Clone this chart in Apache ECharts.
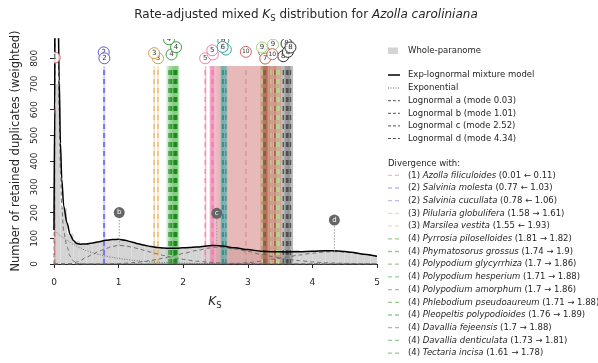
<!DOCTYPE html>
<html>
<head>
<meta charset="utf-8">
<script src="https://cdn.jsdelivr.net/npm/echarts@6/dist/echarts.min.js"></script>
<style>
  html, body { margin: 0; padding: 0; background: #fff; }
  #chart { width: 598px; height: 363px; }
</style>
</head>
<body>
<div id="chart"></div>
<script>
const FONT = 'DejaVu Sans';
const TEXT_COLOR = '#262626';

// Fitted exp-lognormal mixture, sampled on a shared Ks grid
const ksGrid = [0, 0.01, 0.02, 0.03, 0.04, 0.06, 0.08, 0.1, 0.12, 0.15, 0.2, 0.25, 0.3, 0.35, 0.4, 0.5, 0.6, 0.7, 0.8, 0.9,
  1.0, 1.1, 1.2, 1.3, 1.4, 1.5, 1.6, 1.7, 1.8, 1.9, 2.0, 2.2, 2.4, 2.5, 2.6, 2.8, 3.0, 3.2, 3.4, 3.6, 3.8, 4.0, 4.2, 4.3, 4.4, 4.6, 4.8, 5.0];
const mixtureTotal = [132, 599, 1397, 1694, 1602, 1117, 713, 470, 331, 226, 160, 115, 91, 80, 77, 78, 82, 87, 92, 95,
  96, 92, 86, 79, 73, 68, 64, 62, 61, 61, 63, 66, 71, 72, 70, 63, 56, 50, 48, 47, 48, 50, 52, 52, 51, 46, 38, 30];
const exponential = [132, 129, 127, 124, 122, 117, 113, 110, 106, 101, 92, 84, 76, 69, 63, 52, 44, 37, 31, 26,
  22, 18, 15, 12, 10, 8, 7, 6, 5, 4, 3.5, 2.5, 2, 1.5, 1.2, 0.8, 0.5, 0.4, 0.3, 0.2, 0.1, 0.1, 0.1, 0, 0, 0, 0, 0];
const lognormalA = [0, 470, 1270, 1570, 1480, 1000, 600, 360, 225, 125, 68, 30, 12, 4, 1, 0, 0, 0, 0, 0,
  0, 0, 0, 0, 0, 0, 0, 0, 0, 0, 0, 0, 0, 0, 0, 0, 0, 0, 0, 0, 0, 0, 0, 0, 0, 0, 0, 0];
const lognormalB = [0, 0, 0, 0, 0, 0, 0, 0, 0, 0, 0, 1, 3, 7, 13, 26, 38, 50, 60, 68,
  72, 71, 66, 60, 53, 46, 39, 33, 27, 22, 18, 11, 7, 5, 4, 2.5, 1.5, 1, 0.6, 0.4, 0.3, 0.2, 0.1, 0.1, 0.1, 0, 0, 0];
const lognormalC = [0, 0, 0, 0, 0, 0, 0, 0, 0, 0, 0, 0, 0, 0, 0, 0, 0, 0, 0.5, 1,
  2, 3, 5, 7, 10, 14, 18, 23, 29, 35, 41, 52, 62, 65, 64, 58, 49, 38, 28, 19, 13, 8, 5, 4, 3, 2, 1, 0.5];
const lognormalD = [0, 0, 0, 0, 0, 0, 0, 0, 0, 0, 0, 0, 0, 0, 0, 0, 0, 0, 0, 0,
  0, 0, 0, 0, 0, 0, 0, 0, 0, 0, 0, 0, 0, 0, 0.5, 2, 5, 11, 19, 27, 35, 42, 47, 48, 48, 44, 37, 29];

// Whole-paranome histogram (bins of 0.1)
const histBinWidth = 0.1;
const histCounts = [700, 217, 118, 88, 78, 76, 84, 86, 95, 97, 93, 90, 82, 77, 70, 66, 64, 60, 62, 60,
  64, 66, 68, 70, 73, 72, 70, 66, 62, 58, 55, 52, 50, 48, 47, 46, 47, 55, 49, 50,
  51, 52, 52, 51, 50, 46, 44, 40, 35, 31];

// Mixture components
const componentLetters = ['a', 'b', 'c', 'd'];
const componentModes = [0.03, 1.01, 2.52, 4.34];
const componentPeaks = [1570, 72, 65, 48];
const componentMarkerHeights = [1750, 200, 197, 171];

// Ortholog divergences listed in the legend
const legendSpecies = ['Azolla filiculoides', 'Salvinia molesta', 'Salvinia cucullata', 'Pilularia globulifera',
  'Marsilea vestita', 'Pyrrosia piloselloides', 'Phymatosorus grossus', 'Polypodium glycyrrhiza',
  'Polypodium hesperium', 'Polypodium amorphum', 'Phlebodium pseudoaureum', 'Pleopeltis polypodioides',
  'Davallia fejeensis', 'Davallia denticulata', 'Tectaria incisa'];
const legendNode = [1, 2, 2, 3, 3, 4, 4, 4, 4, 4, 4, 4, 4, 4, 4];
const legendKsOriginal = [0.11, 1.03, 1.06, 1.58, 1.93, 1.81, 1.74, 1.7, 1.71, 1.7, 1.71, 1.76, 1.7, 1.73, 1.61];
const legendKsAdjusted = [0.01, 0.77, 0.78, 1.61, 1.55, 1.82, 1.9, 1.86, 1.88, 1.86, 1.88, 1.89, 1.88, 1.81, 1.78];
const legendKsSd = [0.02, 0.01, 0.01, 0.015, 0.015, 0.04, 0.04, 0.04, 0.04, 0.04, 0.04, 0.04, 0.04, 0.04, 0.04];
const legendBadgeHeight = [803, 823, 800, 800, 820, 815, 900, 930, 960, 990, 1020, 843, 1050, 1080, 874];

// Further divergences (nodes 5-10)
const moreNode = [5, 5, 5, 6, 6, 6, 7, 7, 7, 8, 8, 8, 8, 9, 9, 9, 9, 9, 10, 10];
const moreKsAdjusted = [2.34, 2.46, 2.45, 2.62, 2.66, 2.61, 3.25, 3.27, 3.42, 3.55, 3.60, 3.62, 3.66, 3.22, 3.39, 3.36, 3.45, 3.48, 2.97, 3.38];
const moreKsSd = [0.005, 0.05, 0.03, 0.04, 0.02, 0.02, 0.05, 0.04, 0.1, 0.03, 0.03, 0.04, 0.04, 0.01, 0.01, 0.01, 0.01, 0.01, 0.46, 0.1];
const moreBadgeHeight = [800, 815, 831, 870, 834, 844, 827, 799, 900, 808, 857, 825, 842, 842, 853, 930, 960, 990, 825, 816];

const yTicks = [0, 100, 200, 300, 400, 500, 600, 700, 800];
const Y_MAX = 875;
const LINE_TOP = 770;

const NODE_COLORS = [
  { line: '#e86a6a', band: '#ee9a9a', ring: '#e05555', alpha: 0.5 },
  { line: '#6c6cea', band: '#9c9cf0', ring: '#5a5ae0', alpha: 0.35 },
  { line: '#e2b060', band: '#ecc888', ring: '#d4a04a', alpha: 0.45 },
  { line: '#1a8a1a', band: '#7fcc7f', ring: '#3a9e3a', alpha: 0.35 },
  { line: '#f07aa8', band: '#f08cb4', ring: '#f080b0', alpha: 0.6 },
  { line: '#2a8c8c', band: '#58b0b0', ring: '#3aa0a0', alpha: 0.6 },
  { line: '#8e4e30', band: '#a8694a', ring: '#b06a4a', alpha: 0.6 },
  { line: '#383838', band: '#7a7a7a', ring: '#303030', alpha: 0.5 },
  { line: '#b4e890', band: '#c6eeaa', ring: '#98d878', alpha: 0.25 },
  { line: '#d88a8a', band: '#d88e8e', ring: '#c86a6a', alpha: 0.62 }
];

// assemble divergence records: [ks, top, sd, node, badgeHeight]
const divergences = [];
legendKsAdjusted.forEach((k, i) => divergences.push([k, LINE_TOP, legendKsSd[i], legendNode[i], legendBadgeHeight[i]]));
moreKsAdjusted.forEach((k, i) => divergences.push([k, LINE_TOP, moreKsSd[i], moreNode[i], moreBadgeHeight[i]]));
// wide bands first so narrow ones stay visible on top
const divergenceBands = divergences.slice().sort((p, q) => q[2] - p[2]);

const histData = histCounts.map((c, i) => [i * histBinWidth, (i + 1) * histBinWidth, c]);
const pairs = arr => ksGrid.map((k, i) => [k, arr[i]]);

const chart = echarts.init(document.getElementById('chart'), null, { renderer: 'canvas' });

function curveSeries(name, arr, color, width, dash) {
  return {
    name, type: 'line', data: pairs(arr), showSymbol: false, smooth: 0.3, smoothMonotone: 'x',
    clip: true, silent: true, z: 5,
    lineStyle: { color, width, type: dash }
  };
}

const legendGraphics = [];
const LX = 388, TX = 408, LFS = 8.5;
function legendText(y, text) {
  legendGraphics.push({ type: 'text', x: TX, y, style: { text, font: LFS + 'px "' + FONT + '"', fill: TEXT_COLOR, verticalAlign: 'middle' } });
}
function legendLine(y, color, width, dash, opacity) {
  legendGraphics.push({ type: 'line', shape: { x1: LX, y1: y, x2: LX + 12, y2: y },
    style: { stroke: color, lineWidth: width, lineDash: dash, opacity: opacity == null ? 1 : opacity } });
}
legendGraphics.push({ type: 'rect', shape: { x: LX, y: 47.5, width: 10, height: 6.5 }, style: { fill: '#d4d4d4' } });
legendText(50.7, 'Whole-paranome');
legendLine(75, '#000', 1.5, null);
legendText(75, 'Exp-lognormal mixture model');
legendLine(88, '#666', 1, [1, 1.5]);
legendText(88, 'Exponential');
componentLetters.forEach((l, i) => {
  const y = 100.7 + i * 12.6;
  legendLine(y, '#555', 1, [3, 2]);
  legendText(y, 'Lognormal ' + l + ' (mode ' + componentModes[i].toFixed(2) + ')');
});
legendGraphics.push({ type: 'text', x: LX, y: 163.3, style: { text: 'Divergence with:', font: LFS + 'px "' + FONT + '"', fill: TEXT_COLOR, verticalAlign: 'middle' } });
const richLegend = {
  n: { fontFamily: FONT, fontSize: LFS, fill: TEXT_COLOR },
  i: { fontFamily: FONT, fontSize: LFS, fontStyle: 'italic', fill: TEXT_COLOR }
};
legendSpecies.forEach((sp, i) => {
  const y = 175.3 + i * 12.7;
  const o = legendKsOriginal[i], a = legendKsAdjusted[i];
  const range = a >= o ? (o + ' \u2192 ' + a) : (a + ' \u2190 ' + o);
  legendLine(y, NODE_COLORS[legendNode[i] - 1].line, 1.3, [4, 3], 0.45);
  legendGraphics.push({ type: 'text', x: TX, y, style: {
    text: '{n|(' + legendNode[i] + ') }{i|' + sp + '}{n| (' + range + ')}',
    rich: richLegend, verticalAlign: 'middle' } });
});

// title and axis names
const richTitle = {
  n: { fontFamily: FONT, fontSize: 12, fill: TEXT_COLOR, lineHeight: 16, verticalAlign: 'middle' },
  i: { fontFamily: FONT, fontSize: 12, fontStyle: 'italic', fill: TEXT_COLOR, lineHeight: 16, verticalAlign: 'middle' },
  s: { fontFamily: FONT, fontSize: 8.5, fill: TEXT_COLOR, lineHeight: 10, verticalAlign: 'bottom' }
};
legendGraphics.push({ type: 'text', x: 306, y: 15, style: {
  text: '{n|Rate-adjusted mixed }{i|K}{s|S}{n| distribution for }{i|Azolla caroliniana}',
  rich: richTitle, align: 'center', verticalAlign: 'middle' } });
legendGraphics.push({ type: 'text', x: 215, y: 302, style: {
  text: '{i|K}{s|S}', rich: richTitle, align: 'center', verticalAlign: 'middle' } });
legendGraphics.push({ type: 'text', x: 16, y: 151, rotation: Math.PI / 2, style: {
  text: 'Number of retained duplicates (weighted)', font: '11.5px "' + FONT + '"', fill: TEXT_COLOR,
  align: 'center', verticalAlign: 'middle' } });

const option = {
  animation: false,
  backgroundColor: '#fff',
  grid: { left: 54, right: 221, top: 39, bottom: 99, containLabel: false },
  xAxis: {
    type: 'value', min: 0, max: 5, interval: 1, offset: 5,
    axisLine: { lineStyle: { color: TEXT_COLOR, width: 1 } },
    axisTick: { length: 4, lineStyle: { color: TEXT_COLOR } },
    axisLabel: { fontFamily: FONT, fontSize: 9, color: TEXT_COLOR, margin: 9 },
    splitLine: { show: false }
  },
  yAxis: {
    type: 'value', min: 0, max: Y_MAX, offset: 5,
    axisLine: { show: true, lineStyle: { color: TEXT_COLOR, width: 1 } },
    axisTick: { show: true, length: 4, customValues: yTicks, lineStyle: { color: TEXT_COLOR } },
    axisLabel: { fontFamily: FONT, fontSize: 9, color: TEXT_COLOR, rotate: 90, margin: 10, customValues: yTicks },
    splitLine: { show: false }
  },
  graphic: legendGraphics,
  series: [
    {
      name: 'Whole-paranome', type: 'custom', data: histData, encode: { x: [0, 1], y: 2 }, clip: true, silent: true, z: 1,
      renderItem: (params, api) => {
        const p0 = api.coord([api.value(0), api.value(2)]);
        const p1 = api.coord([api.value(1), 0]);
        return { type: 'rect', shape: { x: p0[0], y: p0[1], width: p1[0] - p0[0], height: p1[1] - p0[1] },
          style: { fill: '#d4d4d4' } };
      }
    },
    {
      name: 'divergence bands', type: 'custom', data: divergenceBands, encode: { x: 0, y: 1 }, clip: true, silent: true, z: 2,
      renderItem: (params, api) => {
        const ks = api.value(0), top = api.value(1), sd = api.value(2), node = api.value(3);
        const c = NODE_COLORS[node - 1];
        const xl = api.coord([ks - sd, 0])[0], xr = api.coord([ks + sd, 0])[0];
        const yb = api.coord([ks, 0])[1], yt = api.coord([ks, top])[1];
        return { type: 'rect', shape: { x: xl, y: yt, width: Math.max(xr - xl, 1.5), height: yb - yt },
          style: { fill: c.band, opacity: c.alpha } };
      }
    },
    {
      name: 'divergence lines', type: 'custom', data: divergences, encode: { x: 0, y: 1 }, clip: true, silent: true, z: 3,
      renderItem: (params, api) => {
        const ks = api.value(0), top = api.value(1), node = api.value(3);
        const c = NODE_COLORS[node - 1];
        const xc = api.coord([ks, 0])[0];
        const yb = api.coord([ks, 0])[1], yt = api.coord([ks, top])[1];
        return { type: 'line', shape: { x1: xc, y1: yb, x2: xc, y2: yt },
          style: { stroke: c.line, lineWidth: 1.5, lineDash: [5, 4], opacity: 0.75 } };
      }
    },
    curveSeries('Exponential', exponential, '#707070', 1, [1, 1.5]),
    curveSeries('Lognormal a', lognormalA, '#707070', 1, [4, 3]),
    curveSeries('Lognormal b', lognormalB, '#707070', 1, [4, 3]),
    curveSeries('Lognormal c', lognormalC, '#707070', 1, [4, 3]),
    curveSeries('Lognormal d', lognormalD, '#707070', 1, [4, 3]),
    Object.assign(curveSeries('Exp-lognormal mixture model', mixtureTotal, '#000', 1.5, 'solid'), { z: 6 }),
    {
      name: 'component peaks', type: 'custom', clip: true, silent: true, z: 7,
      data: componentModes.map((m, i) => [m, componentMarkerHeights[i], componentPeaks[i], i]),
      encode: { x: 0, y: 1 },
      renderItem: (params, api) => {
        const m = api.value(0), h = api.value(1), pk = api.value(2), idx = api.value(3);
        const pc = api.coord([m, h]), pp = api.coord([m, pk]);
        return { type: 'group', children: [
          { type: 'line', shape: { x1: pp[0], y1: pp[1], x2: pc[0], y2: pc[1] }, style: { stroke: '#9a9a9a', lineWidth: 1, lineDash: [1.5, 1.5] } },
          { type: 'circle', shape: { cx: pc[0], cy: pc[1], r: 5.5 }, style: { fill: '#666' } },
          { type: 'text', x: pc[0], y: pc[1], style: { text: componentLetters[idx], fill: '#fff', font: '7px "' + FONT + '"', align: 'center', verticalAlign: 'middle' } }
        ] };
      }
    },
    {
      name: 'node badges', type: 'custom', data: divergences, encode: { x: 0, y: 4 }, clip: true, silent: true, z: 8,
      renderItem: (params, api) => {
        const ks = api.value(0), h = api.value(4), node = api.value(3);
        const p = api.coord([ks, h]);
        const c = NODE_COLORS[node - 1];
        return { type: 'group', children: [
          { type: 'circle', shape: { cx: p[0], cy: p[1], r: 5.5 }, style: { fill: '#fff', fillOpacity: 0.85, stroke: c.ring, lineWidth: 1 } },
          { type: 'text', x: p[0], y: p[1], style: { text: String(node), fill: '#333', font: (node >= 10 ? 6 : 7) + 'px "' + FONT + '"', align: 'center', verticalAlign: 'middle' } }
        ] };
      }
    }
  ]
};
chart.setOption(option);
</script>
</body>
</html>
